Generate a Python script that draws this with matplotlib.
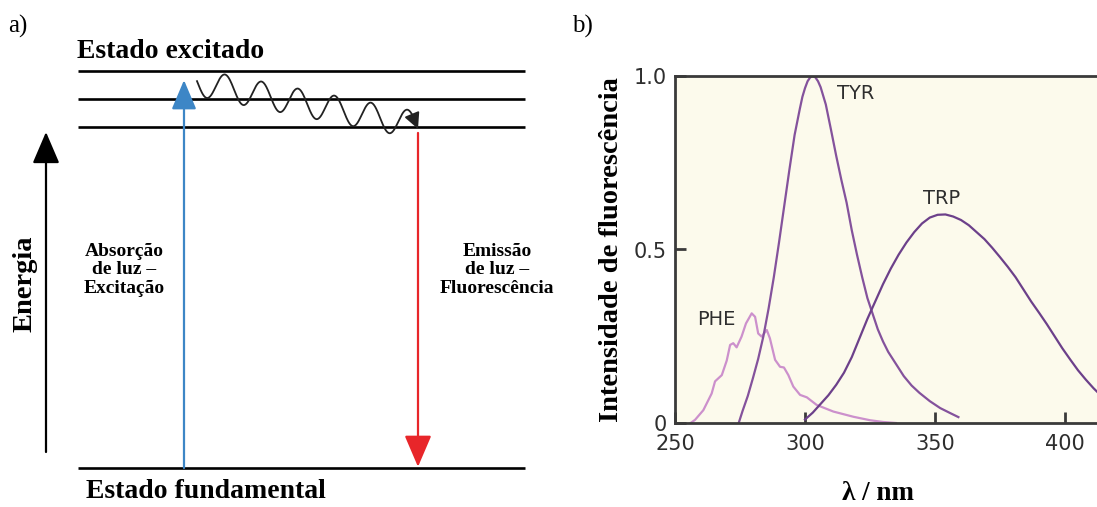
import numpy as np
import matplotlib.pyplot as plt

# --- dados: painel a) (diagrama de Jablonski simplificado) ---
excited_levels = [1.0, 0.93, 0.86]     # níveis vibracionais do estado excitado (unid. arbitrárias)
ground_level = 0.0
absorption_top = 0.977
emission_top = 0.844

# --- dados: painel b) espectros de fluorescência ---
tyr_x = [274.5, 276, 278, 280, 282, 284, 286, 288, 290, 292, 294, 296, 298, 299, 300, 301,
         302, 303, 304, 305, 306, 308, 310, 312, 314, 316, 318, 320, 322, 324, 326, 328, 330,
         332, 335, 338, 341, 344, 348, 352, 356, 359]
tyr_y = [0.0, 0.035, 0.078, 0.13, 0.185, 0.25, 0.33, 0.42, 0.52, 0.625, 0.73, 0.83, 0.905,
         0.94, 0.965, 0.985, 0.996, 1.0, 0.996, 0.985, 0.968, 0.918, 0.845, 0.77, 0.70, 0.635,
         0.555, 0.485, 0.42, 0.36, 0.315, 0.27, 0.235, 0.205, 0.17, 0.135, 0.108, 0.087, 0.063,
         0.043, 0.028, 0.017]

trp_x = [300, 303, 306, 309, 312, 315, 318, 321, 324, 327, 330, 333, 336, 339, 342, 345,
         348, 351, 354, 357, 360, 363, 366, 369, 372, 375, 378, 381, 384, 387, 390, 393,
         396, 399, 402, 405, 408, 411, 414, 417, 420]
trp_y = [0.01, 0.03, 0.055, 0.08, 0.11, 0.145, 0.19, 0.245, 0.30, 0.35, 0.40, 0.445, 0.485,
         0.52, 0.55, 0.575, 0.592, 0.600, 0.601, 0.595, 0.585, 0.57, 0.55, 0.53, 0.505, 0.478,
         0.45, 0.42, 0.385, 0.35, 0.318, 0.285, 0.25, 0.215, 0.183, 0.152, 0.125, 0.1, 0.078,
         0.06, 0.045]

phe_x = [256, 257.7, 260.9, 264.1, 265.4, 268, 269.9, 271.2, 272.4, 273.7, 275.6, 277.3,
         279.5, 280.8, 282, 283.3, 285.3, 286.5, 288.5, 290.4, 291.9, 293.6, 295.5, 298.1,
         300.7, 304.5, 310.9, 318.6, 325, 330, 335]
phe_y = [0.0, 0.009, 0.037, 0.085, 0.12, 0.138, 0.18, 0.225, 0.23, 0.218, 0.249, 0.287,
         0.316, 0.306, 0.258, 0.249, 0.268, 0.244, 0.182, 0.162, 0.16, 0.138, 0.105, 0.081,
         0.074, 0.052, 0.033, 0.018, 0.008, 0.003, 0.0]

labels = ["TYR", "TRP", "PHE"]
label_pos = [(319.6, 0.951), (352.7, 0.648), (265.8, 0.297)]

serif = ["Liberation Serif", "DejaVu Serif"]

fig = plt.figure(figsize=(10.97, 5.07), dpi=100)

# ---------------- painel a) ----------------
ax = fig.add_axes([0, 0, 560 / 1097, 1])
ax.set_xlim(0, 560)
ax.set_ylim(-39 / 397, 468 / 397)
ax.axis("off")

def py(p):
    # converte posição vertical (px da figura) em energia
    return (468 - p) / 397

for lv in excited_levels + [ground_level]:
    ax.plot([78, 525], [lv, lv], color="black", lw=1.9, solid_capstyle="butt")

ax.annotate("", xy=(184, absorption_top), xytext=(184, ground_level),
            arrowprops=dict(arrowstyle="-|>,head_length=1.3,head_width=0.55", mutation_scale=14,
                            color="#3d86c6", lw=1.6, shrinkA=0, shrinkB=0))
ax.annotate("", xy=(418, ground_level + 0.003), xytext=(418, emission_top),
            arrowprops=dict(arrowstyle="-|>,head_length=1.4,head_width=0.6", mutation_scale=14,
                            color="#e8262a", lw=1.6, shrinkA=0, shrinkB=0))
ax.annotate("", xy=(46, py(132)), xytext=(46, py(452)),
            arrowprops=dict(arrowstyle="-|>,head_length=1.4,head_width=0.6", mutation_scale=14,
                            color="black", lw=1.6, shrinkA=0, shrinkB=0))

# relaxação vibracional (linha ondulada)
period, amp, slope = 36.5, 13.5, 0.193
wx = np.linspace(197, 417, 400)
wy = 88 + slope * (wx - 225) - amp * np.cos(2 * np.pi * (wx - 225) / period)
ax.plot(wx[:-4], py(wy[:-4]), color="#222222", lw=1.3)
ax.annotate("", xy=(wx[-1] + 1, py(wy[-1] + 3)), xytext=(wx[-10], py(wy[-10])),
            arrowprops=dict(arrowstyle="-|>,head_length=0.8,head_width=0.4", mutation_scale=12,
                            color="#222222", lw=1.3, shrinkA=0, shrinkB=0))

ax.text(77, py(52), "Estado excitado", family=serif, fontsize=20, fontweight="bold",
        ha="left", va="center")
ax.text(86, py(492), "Estado fundamental", family=serif, fontsize=20, fontweight="bold",
        ha="left", va="center")
ax.text(25, py(284), "Energia", family=serif, fontsize=20.5, fontweight="bold",
        rotation=90, ha="center", va="center")
ax.text(124, py(270), "Absorção\nde luz –\nExcitação", family=serif, fontsize=14,
        fontweight="bold", ha="center", va="center", multialignment="center", linespacing=1.15)
ax.text(497, py(270), "Emissão\nde luz –\nFluorescência", family=serif, fontsize=14,
        fontweight="bold", ha="center", va="center", multialignment="center", linespacing=1.15)
ax.text(8, py(26), "a)", family=serif, fontsize=18, ha="left", va="center")

# ---------------- painel b) ----------------
bx = fig.add_axes([675 / 1097, 84 / 507, 442 / 1097, 347 / 507])
bx.set_facecolor("#fcfaec")
bx.set_xlim(250, 420)
bx.set_ylim(0, 1.0)

bx.plot(phe_x, phe_y, color="#cc90cc", lw=1.6)
bx.plot(tyr_x, tyr_y, color="#84529c", lw=1.6)
bx.plot(trp_x, trp_y, color="#6c408a", lw=1.6)

for name, (lx, ly) in zip(labels, label_pos):
    bx.text(lx, ly, name, fontsize=14, color="#2e2e2e", ha="center", va="center")

for s in bx.spines.values():
    s.set_color("#3a3a3a")
    s.set_linewidth(2)
bx.set_xticks([250, 300, 350, 400])
bx.set_yticks([0, 0.5, 1.0])
bx.set_yticklabels(["0", "0.5", "1.0"])
bx.tick_params(direction="in", length=8, width=2, color="#3a3a3a", labelsize=15,
               labelcolor="#2e2e2e", pad=6)
bx.tick_params(axis="x", pad=8)

fig.text(611 / 1097, 1 - 250 / 507, "Intensidade de fluorescência", family=serif, fontsize=20.5,
         fontweight="bold", rotation=90, ha="center", va="center")
fig.text(878 / 1097, 1 - 493 / 507, "λ / nm", family=serif, fontsize=19.5, fontweight="bold",
         ha="center", va="center")
fig.text(572 / 1097, 1 - 26 / 507, "b)", family=serif, fontsize=18, ha="left", va="center")

fig.savefig("out.png", dpi=100)
